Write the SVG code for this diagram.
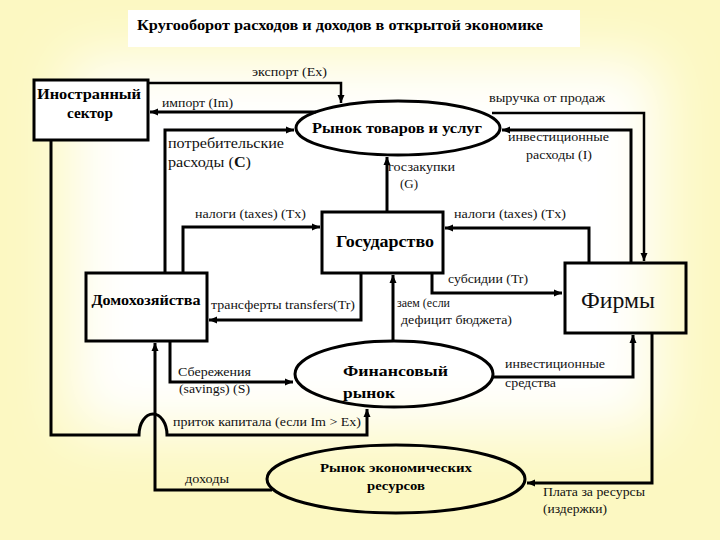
<svg xmlns="http://www.w3.org/2000/svg" width="720" height="540" viewBox="0 0 720 540">
<defs>
<marker id="ah" markerUnits="userSpaceOnUse" markerWidth="9" markerHeight="8" refX="8" refY="4" orient="auto">
<path d="M0,0.5 L8,4 L0,7.5 z" fill="#000"/>
</marker>
<filter id="blur" x="-30%" y="-30%" width="160%" height="160%"><feGaussianBlur stdDeviation="30"/></filter>
</defs>
<rect width="720" height="540" fill="#fcf8c2"/>
<rect x="70" y="60" width="590" height="370" fill="#ffffff" filter="url(#blur)"/>
<rect x="128" y="10" width="452" height="37" fill="#ffffff"/>
<text font-family="Liberation Serif" font-size="14" font-weight="bold" x="137" y="30" textLength="406" lengthAdjust="spacingAndGlyphs">Кругооборот расходов и доходов в открытой экономике</text>

<g id="connectors" fill="none" stroke="#000" stroke-width="3" marker-end="url(#ah)">
<path d="M148,83 H341 V103" stroke-width="2.5"/>
<path d="M316,112 H150"/>
<path d="M165,273 V130 H294"/>
<path d="M387,212 V157"/>
<path d="M492,113 H644 V261" stroke-width="2.5"/>
<path d="M631,263 V130 H502"/>
<path d="M183,273 V227 H320"/>
<path d="M589,263 V228 H445"/>
<path d="M432,273 V293 H562"/>
<path d="M361,273 V320 H209"/>
<path d="M393,341 V275"/>
<path d="M170,341 V382 H293"/>
<path d="M493,377 H633 V335"/>
<path d="M652,333 V483 H527"/>
<path d="M272,490 H155 V343"/>
<path d="M51,140 V435 H139 A14,21 0 0 1 167,435 H367 V409"/>
</g>
<g id="connector-labels">
<text font-family="Liberation Serif" font-size="13" fill="#111" x="252" y="76" textLength="75" lengthAdjust="spacingAndGlyphs">экспорт (Ex)</text>
<text font-family="Liberation Serif" font-size="13" fill="#111" x="162" y="107" textLength="71" lengthAdjust="spacingAndGlyphs">импорт (Im)</text>
<text font-family="Liberation Serif" font-size="14" fill="#111" x="168" y="148" textLength="116" lengthAdjust="spacingAndGlyphs">потребительские</text>
<text font-family="Liberation Serif" font-size="14" fill="#111" x="168" y="167" textLength="83" lengthAdjust="spacingAndGlyphs">расходы (<tspan font-weight="bold">С</tspan>)</text>
<text font-family="Liberation Serif" font-size="13" fill="#111" x="489" y="102" textLength="116" lengthAdjust="spacingAndGlyphs">выручка от продаж</text>
<text font-family="Liberation Serif" font-size="13" fill="#111" x="508" y="141" textLength="101" lengthAdjust="spacingAndGlyphs">инвестиционные</text>
<text font-family="Liberation Serif" font-size="13" fill="#111" x="526" y="159" textLength="66" lengthAdjust="spacingAndGlyphs">расходы (I)</text>
<text font-family="Liberation Serif" font-size="13" fill="#111" x="388" y="171" textLength="67" lengthAdjust="spacingAndGlyphs">госзакупки</text>
<text font-family="Liberation Serif" font-size="13" fill="#111" x="400" y="188" textLength="18" lengthAdjust="spacingAndGlyphs">(G)</text>
<text font-family="Liberation Serif" font-size="13" fill="#111" x="195" y="218" textLength="111" lengthAdjust="spacingAndGlyphs">налоги (taxes) (Tx)</text>
<text font-family="Liberation Serif" font-size="13" fill="#111" x="454" y="218" textLength="112" lengthAdjust="spacingAndGlyphs">налоги (taxes) (Tx)</text>
<text font-family="Liberation Serif" font-size="13" fill="#111" x="448" y="283" textLength="80" lengthAdjust="spacingAndGlyphs">субсидии (Tr)</text>
<text font-family="Liberation Serif" font-size="13" fill="#111" x="211" y="309" textLength="144" lengthAdjust="spacingAndGlyphs">трансферты transfers(Tr)</text>
<text font-family="Liberation Serif" font-size="13" fill="#111" x="397" y="307" textLength="53" lengthAdjust="spacingAndGlyphs">заем (если</text>
<text font-family="Liberation Serif" font-size="13" fill="#111" x="401" y="324" textLength="111" lengthAdjust="spacingAndGlyphs">дефицит бюджета)</text>
<text font-family="Liberation Serif" font-size="13" fill="#111" x="505" y="368" textLength="100" lengthAdjust="spacingAndGlyphs">инвестиционные</text>
<text font-family="Liberation Serif" font-size="13" fill="#111" x="505" y="387" textLength="51" lengthAdjust="spacingAndGlyphs">средства</text>
<text font-family="Liberation Serif" font-size="13" fill="#111" x="178" y="376" textLength="73" lengthAdjust="spacingAndGlyphs">Сбережения</text>
<text font-family="Liberation Serif" font-size="13" fill="#111" x="179" y="393" textLength="71" lengthAdjust="spacingAndGlyphs">(savings) (S)</text>
<text font-family="Liberation Serif" font-size="13" fill="#111" x="173" y="426" textLength="188" lengthAdjust="spacingAndGlyphs">приток капитала (если Im &gt; Ex)</text>
<text font-family="Liberation Serif" font-size="13" fill="#111" x="185" y="483" textLength="44" lengthAdjust="spacingAndGlyphs">доходы</text>
<text font-family="Liberation Serif" font-size="13" fill="#111" x="543" y="496" textLength="102" lengthAdjust="spacingAndGlyphs">Плата за ресурсы</text>
<text font-family="Liberation Serif" font-size="13" fill="#111" x="543" y="513" textLength="64" lengthAdjust="spacingAndGlyphs">(издержки)</text>
</g>

<g id="foreign">
<rect x="34" y="80" width="114" height="60" fill="#ffffff" stroke="#000" stroke-width="3"/>
<text font-family="Liberation Serif" font-size="14" font-weight="bold" x="89" y="99" textLength="104" lengthAdjust="spacingAndGlyphs" text-anchor="middle">Иностранный</text>
<text font-family="Liberation Serif" font-size="14" font-weight="bold" x="90" y="118" textLength="46" lengthAdjust="spacingAndGlyphs" text-anchor="middle">сектор</text>
</g>

<g id="goods-market">
<ellipse cx="398" cy="128" rx="102" ry="27" fill="none" stroke="#000" stroke-width="3"/>
<text font-family="Liberation Serif" font-size="14" font-weight="bold" x="397" y="133" textLength="170" lengthAdjust="spacingAndGlyphs" text-anchor="middle">Рынок товаров и услуг</text>
</g>

<g id="government">
<rect x="322" y="212" width="121" height="61" fill="#ffffff" stroke="#000" stroke-width="3"/>
<text font-family="Liberation Serif" font-size="16" font-weight="bold" x="385" y="247" textLength="98" lengthAdjust="spacingAndGlyphs" text-anchor="middle">Государство</text>
</g>

<g id="households">
<rect x="86" y="273" width="121" height="68" fill="none" stroke="#000" stroke-width="3"/>
<text font-family="Liberation Serif" font-size="14" font-weight="bold" x="146" y="305" textLength="109" lengthAdjust="spacingAndGlyphs" text-anchor="middle">Домохозяйства</text>
</g>

<g id="firms">
<rect x="565" y="263" width="121" height="70" fill="none" stroke="#000" stroke-width="3"/>
<text font-family="Liberation Serif" font-size="24" fill="#111" x="618" y="308" textLength="74" lengthAdjust="spacingAndGlyphs" text-anchor="middle">Фирмы</text>
</g>

<g id="financial-market">
<ellipse cx="394" cy="374" rx="99" ry="33" fill="none" stroke="#000" stroke-width="3"/>
<text font-family="Liberation Serif" font-size="15" font-weight="bold" x="343" y="376" textLength="105" lengthAdjust="spacingAndGlyphs">Финансовый</text>
<text font-family="Liberation Serif" font-size="15" font-weight="bold" x="343" y="398" textLength="52" lengthAdjust="spacingAndGlyphs">рынок</text>
</g>

<g id="resource-market">
<ellipse cx="396" cy="479" rx="129" ry="34" fill="none" stroke="#000" stroke-width="3"/>
<text font-family="Liberation Serif" font-size="13" font-weight="bold" x="396" y="472" textLength="152" lengthAdjust="spacingAndGlyphs" text-anchor="middle">Рынок экономических</text>
<text font-family="Liberation Serif" font-size="13" font-weight="bold" x="396" y="490" textLength="58" lengthAdjust="spacingAndGlyphs" text-anchor="middle">ресурсов</text>
</g>
</svg>
